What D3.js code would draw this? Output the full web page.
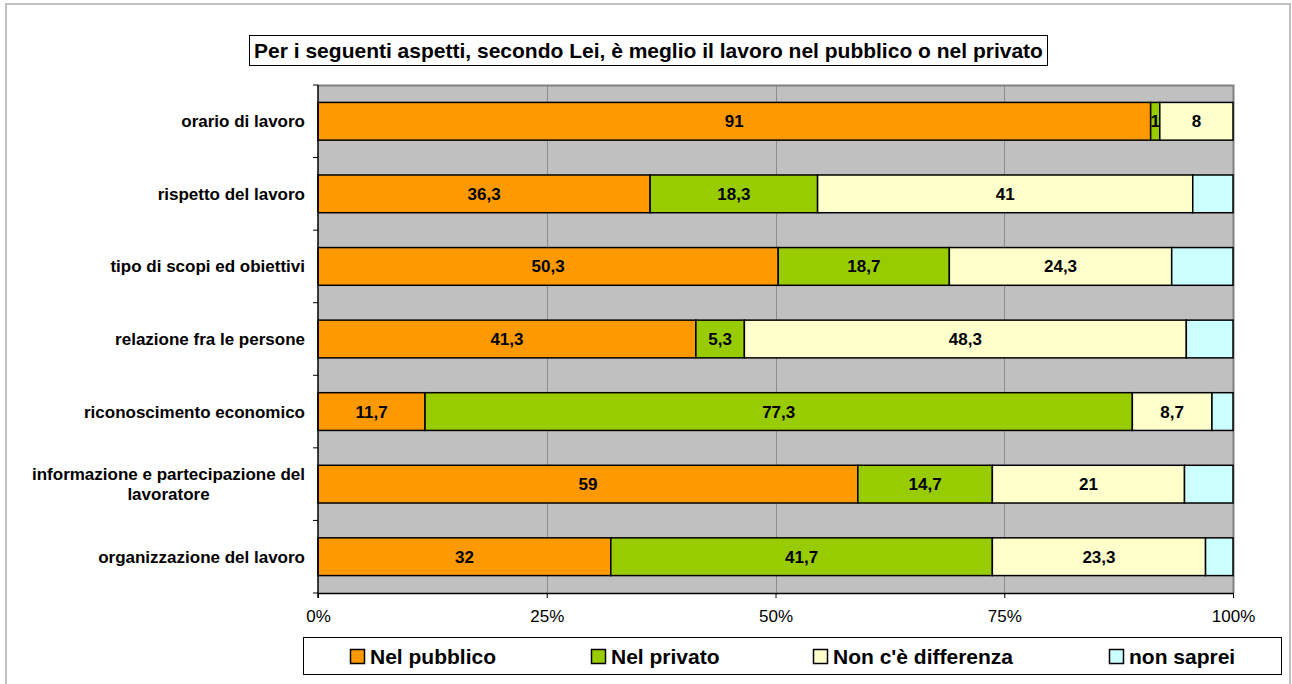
<!DOCTYPE html>
<html>
<head>
<meta charset="utf-8">
<script src="https://cdn.jsdelivr.net/npm/d3@7"></script>
<style>
  body { margin: 0; background: #fff; }
  text { font-family: Arial, "Liberation Sans", sans-serif; }
</style>
</head>
<body>
<script>
// data
const categories = [
  "orario di lavoro",
  "rispetto del lavoro",
  "tipo di scopi ed obiettivi",
  "relazione fra le persone",
  "riconoscimento economico",
  "informazione e partecipazione del lavoratore",
  "organizzazione del lavoro"
];
const seriesNames = ["Nel pubblico", "Nel privato", "Non c'è differenza", "non saprei"];
const pubblico  = [91, 36.3, 50.3, 41.3, 11.7, 59, 32];
const privato   = [1, 18.3, 18.7, 5.3, 77.3, 14.7, 41.7];
const nessuna   = [8, 41, 24.3, 48.3, 8.7, 21, 23.3];
const nonSaprei = [0, 4.4, 6.7, 5.1, 2.3, 5.3, 3];
const tickValues = [0, 25, 50, 75, 100];
const title = "Per i seguenti aspetti, secondo Lei, è meglio il lavoro nel pubblico o nel privato";

const colors = ["#FF9900", "#99CC00", "#FFFFCC", "#CCFFFF"];
const color = d3.scaleOrdinal(seriesNames, colors);

const W = 1292, H = 684;
const plot = {left: 318, top: 85, right: 1233, bottom: 593};

const svg = d3.select("body").append("svg")
  .attr("width", W).attr("height", H);

// outer chart frame
svg.append("rect")
  .attr("x", 6).attr("y", 4).attr("width", 1284).attr("height", 700)
  .attr("fill", "none").attr("stroke", "#c0c0c0").attr("stroke-width", 2);

// title box
const titleG = svg.append("g");
titleG.append("rect")
  .attr("x", 249.5).attr("y", 35.5).attr("width", 798).attr("height", 30)
  .attr("fill", "#fff").attr("stroke", "#000");
titleG.append("text")
  .attr("x", 648.5).attr("y", 58)
  .attr("text-anchor", "middle")
  .attr("font-weight", "bold").attr("font-size", 21)
  .text(title);

const x = d3.scaleLinear().domain([0, 100]).range([plot.left, plot.right]);
const y = d3.scaleBand().domain(categories).range([plot.top, plot.bottom])
  .paddingInner(0.48).paddingOuter(0.24);

// plot background
svg.append("rect")
  .attr("x", plot.left).attr("y", plot.top)
  .attr("width", plot.right - plot.left).attr("height", plot.bottom - plot.top)
  .attr("fill", "#c0c0c0");

// gridlines
svg.append("g").selectAll("line")
  .data(tickValues.slice(1, -1))
  .enter().append("line")
    .attr("x1", d => Math.round(x(d)) + 0.5).attr("x2", d => Math.round(x(d)) + 0.5)
    .attr("y1", plot.top).attr("y2", plot.bottom)
    .attr("stroke", "#8c8c8c");

// top and right plot border
svg.append("path")
  .attr("d", `M${plot.left},${plot.top + 0.5}H${plot.right + 0.5}V${plot.bottom}`)
  .attr("fill", "none").attr("stroke", "#808080").attr("stroke-width", 2);

// stack the series
const rows = categories.map((c, i) => ({
  cat: c,
  "Nel pubblico": pubblico[i],
  "Nel privato": privato[i],
  "Non c'è differenza": nessuna[i],
  "non saprei": nonSaprei[i]
}));
const stacked = d3.stack().keys(seriesNames)(rows);

const layers = svg.append("g").selectAll("g.layer")
  .data(stacked)
  .enter().append("g")
    .attr("class", "layer")
    .attr("fill", d => color(d.key));

layers.selectAll("rect")
  .data(d => d.filter(s => s[1] - s[0] > 0))
  .enter().append("rect")
    .attr("x", d => x(d[0]))
    .attr("y", d => y(d.data.cat))
    .attr("width", d => x(d[1]) - x(d[0]))
    .attr("height", y.bandwidth())
    .attr("stroke", "#000").attr("stroke-width", 1.5);

// value labels (not for "non saprei")
layers.filter(d => d.key !== "non saprei")
  .selectAll("text")
  .data(d => d.filter(s => s[1] - s[0] > 0).map(s => ({s: s, v: s.data[d.key]})))
  .enter().append("text")
    .attr("x", d => (x(d.s[0]) + x(d.s[1])) / 2)
    .attr("y", d => y(d.s.data.cat) + y.bandwidth() / 2 + 6)
    .attr("text-anchor", "middle")
    .attr("font-weight", "bold").attr("font-size", 17)
    .attr("fill", "#000")
    .text(d => String(d.v).replace(".", ","));

// x axis
const xAxis = svg.append("g")
  .attr("transform", `translate(0,${plot.bottom})`)
  .call(d3.axisBottom(x).tickValues(tickValues).tickFormat(d => d + "%")
    .tickSizeInner(5).tickSizeOuter(0).tickPadding(12));
xAxis.select(".domain").attr("stroke", "#000").attr("stroke-width", 1.5);
xAxis.selectAll("text").attr("font-size", 17).attr("fill", "#000")
  .style("font-family", "Arial, 'Liberation Sans', sans-serif");

// y axis: line and boundary ticks
svg.append("line")
  .attr("x1", plot.left).attr("x2", plot.left)
  .attr("y1", plot.top).attr("y2", plot.bottom + 5)
  .attr("stroke", "#000").attr("stroke-width", 1.5);
const boundaries = categories.map(c => y(c) - y.step() * y.paddingInner() / 2)
  .concat([plot.bottom]);
svg.append("g").selectAll("line")
  .data(boundaries)
  .enter().append("line")
    .attr("x1", plot.left - 5).attr("x2", plot.left)
    .attr("y1", d => d).attr("y2", d => d)
    .attr("stroke", "#000");

// category labels, wrapped like the reference
const labelLines = {"informazione e partecipazione del lavoratore": ["informazione e partecipazione del", "lavoratore"]};
const catLabels = svg.append("g").selectAll("text")
  .data(categories)
  .enter().append("text")
    .attr("font-weight", "bold").attr("font-size", 17)
    .attr("fill", "#000");
catLabels.each(function(c) {
  const t = d3.select(this);
  const lines = labelLines[c] || [c];
  const cy = y(c) + y.bandwidth() / 2;
  lines.forEach((l, i) => {
    t.append("tspan").attr("y", cy + 6 + (i - (lines.length - 1) / 2) * 20).text(l);
  });
  let maxW = 0;
  t.selectAll("tspan").each(function() { maxW = Math.max(maxW, this.getComputedTextLength()); });
  t.attr("text-anchor", "middle").selectAll("tspan").attr("x", 305 - maxW / 2);
});

// legend
const legend = svg.append("g");
legend.append("rect")
  .attr("x", 303.5).attr("y", 637.5).attr("width", 978).attr("height", 37)
  .attr("fill", "#fff").attr("stroke", "#000");
const legendX = [350, 591, 813, 1109];
const items = legend.selectAll("g.item")
  .data(seriesNames)
  .enter().append("g")
    .attr("class", "item")
    .attr("transform", (d, i) => `translate(${legendX[i]},649)`);
items.append("rect")
  .attr("x", 0.5).attr("y", 0.5).attr("width", 14).attr("height", 14)
  .attr("fill", d => color(d)).attr("stroke", "#000").attr("stroke-width", 1.5);
items.append("text")
  .attr("x", 20).attr("y", 15)
  .attr("font-weight", "bold").attr("font-size", 21)
  .attr("fill", "#000")
  .text(d => d);
</script>
</body>
</html>
